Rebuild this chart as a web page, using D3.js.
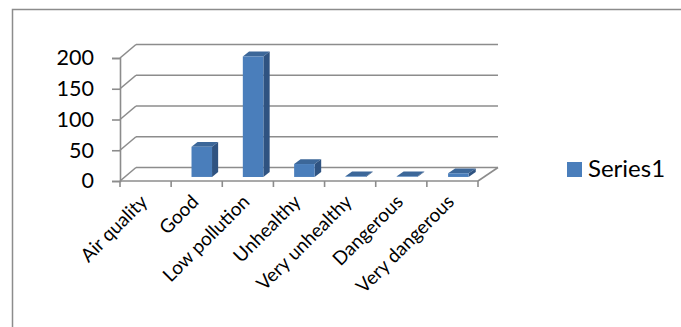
<!DOCTYPE html>
<html>
<head>
<meta charset="utf-8">
<script src="https://cdn.jsdelivr.net/npm/d3@7"></script>
<style>
  html, body { margin: 0; padding: 0; background: #fff; }
  svg { display: block; }
  text { font-family: Lato, "Liberation Sans", Arial, sans-serif; fill: #000; }
</style>
</head>
<body>
<svg id="chart" width="681" height="327"></svg>
<script>
// Air quality counts per category
const categories = ["Air quality", "Good", "Low pollution", "Unhealthy", "Very unhealthy", "Dangerous", "Very dangerous"];
const values = [0, 49, 196, 21, 1, 1, 6];
const yTicks = [0, 50, 100, 150, 200];
const seriesName = "Series1";

const svg = d3.select("#chart");

// front plane of the 3D box
const frontLeft = 120, frontRight = 478;
const x = d3.scaleBand().domain(categories).range([frontLeft, frontRight]).paddingInner(0).paddingOuter(0);
const y = d3.scaleLinear().domain([0, 200]).range([181, 58]);

// oblique depth projection (slight widening toward the right)
const depthDY = -13.5;
function depthDX(px) { return 16 + 4 * (px - frontLeft) / (frontRight - frontLeft); }
function project(px, v, d) { return [px + d * depthDX(px), y(v) + d * depthDY]; }

const gridColor = "#8c8c8c";

// outer chart frame
svg.append("rect")
  .attr("x", 12.5).attr("y", 9.5)
  .attr("width", 700).attr("height", 400)
  .attr("fill", "none").attr("stroke", gridColor).attr("stroke-width", 1.5);

const grid = svg.append("g").attr("stroke", gridColor).attr("stroke-width", 1.6).attr("fill", "none");

// back wall gridlines and left wall diagonals
yTicks.forEach(v => {
  const b0 = project(frontLeft, v, 1), b1 = project(frontRight, v, 1);
  grid.append("line").attr("x1", b0[0]).attr("y1", b0[1]).attr("x2", b1[0]).attr("y2", b1[1]);
  grid.append("line").attr("x1", frontLeft).attr("y1", y(v)).attr("x2", b0[0]).attr("y2", b0[1]);
});

// floor: front edge and right diagonal
const fr = project(frontRight, 0, 1);
grid.append("line").attr("x1", frontLeft).attr("y1", y(0)).attr("x2", frontRight).attr("y2", y(0));
grid.append("line").attr("x1", frontRight).attr("y1", y(0)).attr("x2", fr[0]).attr("y2", fr[1]);

// vertical value axis on the front plane
const yAxis = d3.axisLeft(y).tickValues(yTicks).tickSize(8).tickPadding(18);
const yG = svg.append("g").attr("transform", `translate(${frontLeft},0)`).call(yAxis);
yG.attr("font-family", null);
yG.select(".domain").attr("stroke", gridColor).attr("stroke-width", 1.6);
yG.selectAll(".tick line").attr("stroke", gridColor).attr("stroke-width", 1.6);
yG.selectAll(".tick text").style("font-size", "21.5px").attr("fill", "#000");

// category tick marks at band boundaries
const bounds = categories.map(c => x(c)).concat([frontRight]);
grid.selectAll("line.ctick").data(bounds).join("line")
  .attr("class", "ctick")
  .attr("x1", d => d).attr("x2", d => d)
  .attr("y1", y(0)).attr("y2", y(0) + 6);

// category labels, rotated
svg.append("g").selectAll("text").data(categories).join("text")
  .attr("text-anchor", "end")
  .attr("transform", d => `translate(${x(d) + x.bandwidth() / 2 + 3},${y(0) + 22}) rotate(-45)`)
  .style("font-size", "19px")
  .text(d => d);

// 3D bars
const barW = x.bandwidth() * 0.4;
const d0 = 0.3, d1 = 0.66;
const bars = svg.append("g");
categories.forEach((c, i) => {
  const v = values[i];
  if (!v) return;
  const xl = x(c) + (x.bandwidth() - barW) / 2, xr = xl + barW;
  const fTL = project(xl, v, d0), fTR = project(xr, v, d0), fBR = project(xr, 0, d0), fBL = project(xl, 0, d0);
  const bTL = project(xl, v, d1), bTR = project(xr, v, d1), bBR = project(xr, 0, d1);
  const poly = pts => pts.map(p => p.join(",")).join(" ");
  bars.append("polygon").attr("points", poly([fTL, fTR, bTR, bTL])).attr("fill", "#3c6799");
  bars.append("polygon").attr("points", poly([fTR, bTR, bBR, fBR])).attr("fill", "#2f5381");
  bars.append("polygon").attr("points", poly([fTL, fTR, fBR, fBL])).attr("fill", "#4a7ebb");
});

// legend
const legend = svg.append("g");
legend.append("rect").attr("x", 567).attr("y", 162).attr("width", 15).attr("height", 15).attr("fill", "#4a7ebb");
legend.append("text").attr("x", 588).attr("y", 177).style("font-size", "24px").text(seriesName);
</script>
</body>
</html>
